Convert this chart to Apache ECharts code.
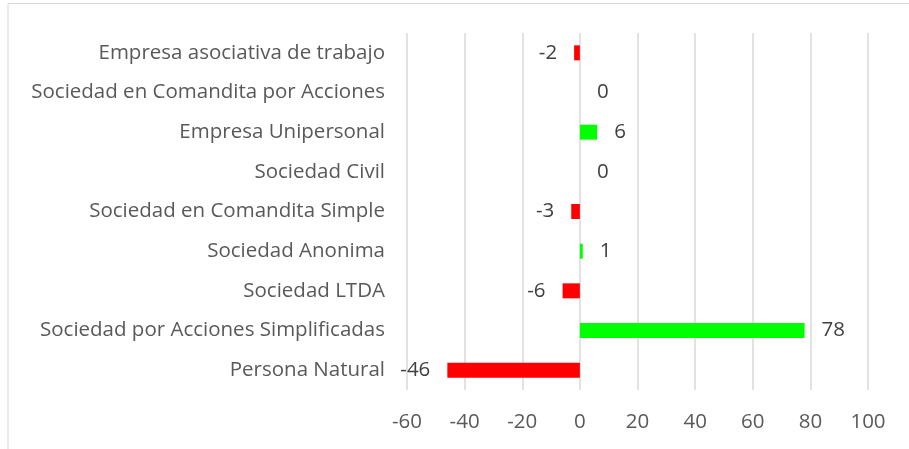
<!DOCTYPE html>
<html>
<head>
    <meta charset="utf-8">
    <title>ECharts</title>
    <script src="https://cdn.jsdelivr.net/npm/echarts@6/dist/echarts.min.js"></script>
    <style>
        html, body { margin: 0; padding: 0; background: #fff; }
    </style>
</head>
<body>
    <div id="main" style="width: 909px;height:449px;"></div>

    <script type="text/javascript">
        // categories listed bottom to top
        var categories = [
            'Persona Natural',
            'Sociedad por Acciones Simplificadas',
            'Sociedad LTDA',
            'Sociedad Anonima',
            'Sociedad en Comandita Simple',
            'Sociedad Civil',
            'Empresa Unipersonal',
            'Sociedad en Comandita por Acciones',
            'Empresa asociativa de trabajo'
        ];
        var values = [-46, 78, -6, 1, -3, 0, 6, 0, -2];
        var xTicks = [-60, -40, -20, 0, 20, 40, 60, 80, 100];

        var textColor = '#595959';
        var font = '"Open Sans", sans-serif';

        var myChart = echarts.init(document.getElementById('main'));

        var barData = values.map(function (v) {
            return {
                value: v,
                itemStyle: { color: v < 0 ? '#ff0000' : '#00ff00' },
                label: { position: v < 0 ? 'left' : 'right' }
            };
        });

        var option = {
            animation: false,
            grid: {
                left: 407,
                right: 41,
                top: 33,
                bottom: 59,
                containLabel: false
            },
            xAxis: {
                type: 'value',
                min: xTicks[0],
                max: xTicks[xTicks.length - 1],
                interval: 20,
                axisLine: { show: false },
                axisTick: { show: false },
                splitLine: { lineStyle: { color: '#d9d9d9', width: 1.5 } },
                axisLabel: {
                    color: textColor,
                    fontFamily: font,
                    fontSize: 20.5,
                    margin: 22
                }
            },
            yAxis: {
                type: 'category',
                data: categories,
                axisLine: { show: false },
                axisTick: { show: false },
                axisLabel: {
                    color: textColor,
                    fontFamily: font,
                    fontSize: 20.5,
                    margin: 22
                }
            },
            series: [{
                type: 'bar',
                data: barData,
                barWidth: 15,
                label: {
                    show: true,
                    distance: 17,
                    color: '#404040',
                    fontFamily: font,
                    fontSize: 20.5
                }
            }],
            graphic: [
                { type: 'line', shape: { x1: 8, y1: 3.5, x2: 909, y2: 3.5 }, style: { stroke: '#d9d9d9', lineWidth: 1 } },
                { type: 'line', shape: { x1: 8, y1: 3.5, x2: 8, y2: 449 }, style: { stroke: '#d9d9d9', lineWidth: 1 } }
            ]
        };

        myChart.setOption(option);
    </script>
</body>
</html>
